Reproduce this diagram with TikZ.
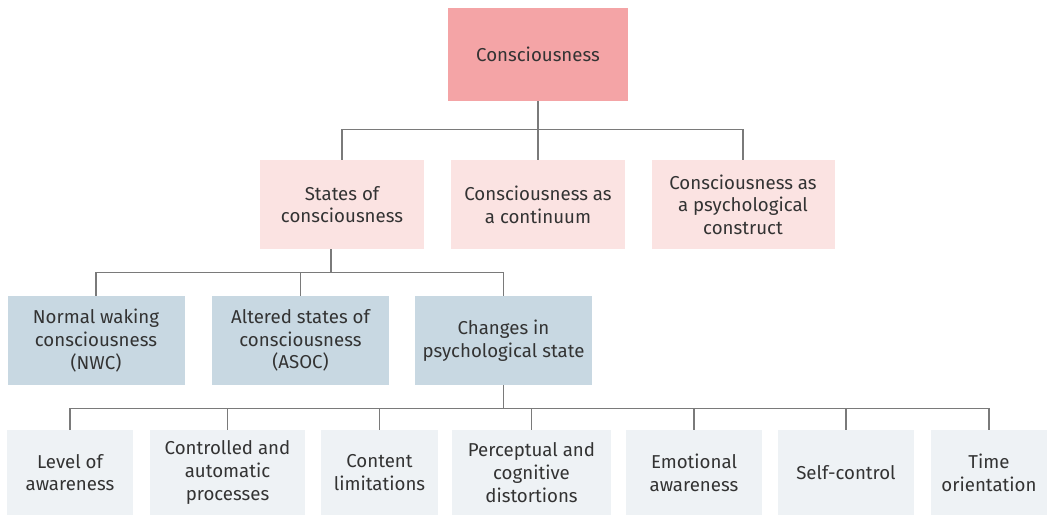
\documentclass[tikz,border=0pt]{standalone}
\usepackage{fontspec}
\setmainfont{Fira Sans}
\definecolor{topred}{HTML}{F4A4A6}
\definecolor{lightpink}{HTML}{FBE3E2}
\definecolor{greyblue}{HTML}{C8D8E2}
\definecolor{paleblue}{HTML}{EEF2F5}
\definecolor{linegrey}{HTML}{7A7A7A}
\definecolor{txt}{HTML}{333333}
\begin{document}
\begin{tikzpicture}
  [x=0.75pt,y=-0.75pt,
   every node/.style={rectangle,inner sep=0pt,align=center,text=txt,
     font=\fontsize{14}{17}\selectfont},
   link/.style={draw=linegrey,line width=0.8pt}]
  \useasboundingbox (0,0) rectangle (1047,515);

  % top
  \node[fill=topred,minimum width=180*0.75pt,minimum height=93*0.75pt] (cons) at (538,54.5) {Consciousness};

  % second row
  \tikzset{row2/.style={fill=lightpink,minimum height=89*0.75pt}}
  \node[row2,minimum width=164*0.75pt] (states) at (342,204.5) {States of\\consciousness};
  \node[row2,minimum width=174*0.75pt] (continuum) at (538,204.5) {Consciousness as\\a continuum};
  \node[row2,minimum width=183*0.75pt] (construct) at (743,204.5) {Consciousness as\\a psychological\\construct};

  % third row
  \tikzset{row3/.style={fill=greyblue,minimum width=177*0.75pt,minimum height=89*0.75pt}}
  \node[row3] (nwc) at (96,340.5) {Normal waking\\consciousness\\(NWC)};
  \node[row3] (asoc) at (300.5,340.5) {Altered states of\\consciousness\\(ASOC)};
  \node[row3] (changes) at (503.5,340.5) {Changes in\\psychological state};

  % bottom row
  \tikzset{row4/.style={fill=paleblue,minimum height=85*0.75pt}}
  \node[row4,minimum width=126*0.75pt] (level) at (70,472.5) {Level of\\awareness};
  \node[row4,minimum width=155*0.75pt] (controlled) at (227.5,472.5) {Controlled and\\automatic\\processes};
  \node[row4,minimum width=117*0.75pt] (content) at (379.5,472.5) {Content\\limitations};
  \node[row4,minimum width=159*0.75pt] (perceptual) at (531.5,472.5) {Perceptual and\\cognitive\\distortions};
  \node[row4,minimum width=136*0.75pt] (emotional) at (694,472.5) {Emotional\\awareness};
  \node[row4,minimum width=136*0.75pt] (selfcontrol) at (846,472.5) {Self-control};
  \node[row4,minimum width=116*0.75pt] (time) at (989,472.5) {Time\\orientation};

  % connectors
  \foreach \to in {states,continuum,construct}
    \draw[link] (cons.south) -- ++(0,28) -| (\to.north);
  \foreach \to in {nwc,asoc,changes}
    \draw[link] ([xshift=-11*0.75pt]states.south) -- ++(0,23) -| (\to.north);
  \foreach \to in {level,controlled,content,perceptual,emotional,selfcontrol,time}
    \draw[link] (changes.south) -- ++(0,23.5) -| (\to.north);
\end{tikzpicture}
\end{document}
